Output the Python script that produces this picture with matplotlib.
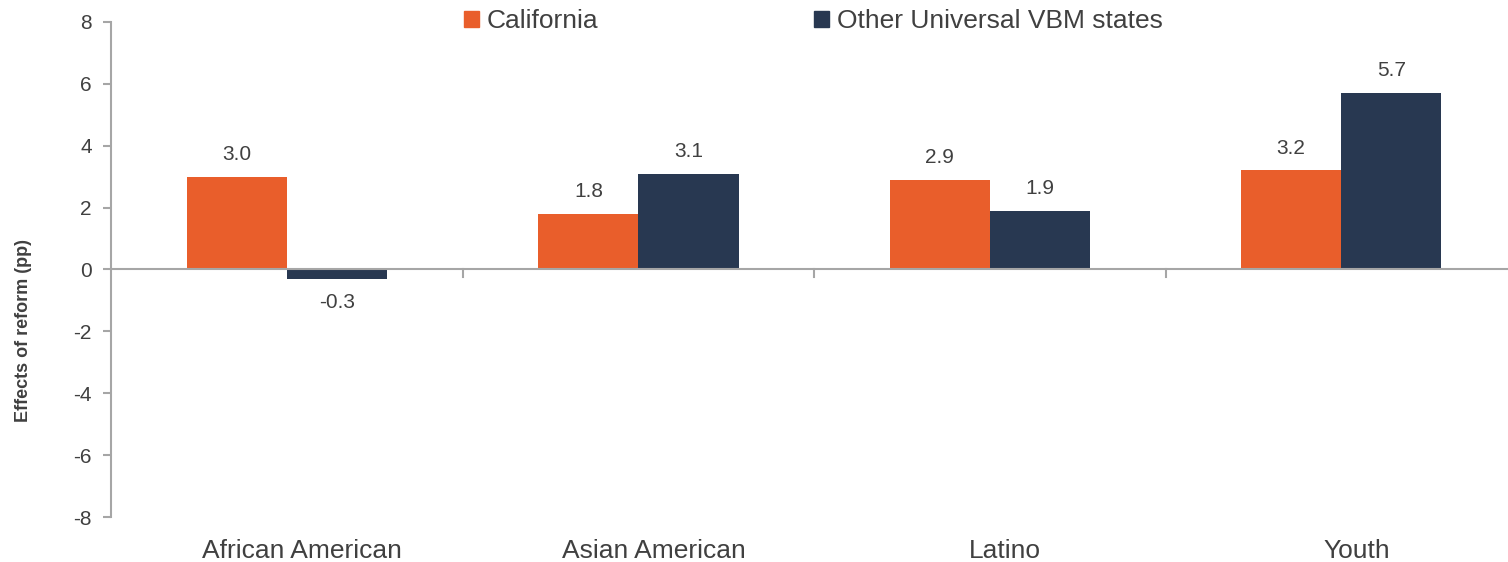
import numpy as np
import matplotlib.pyplot as plt
from matplotlib.patches import Patch

# Dane
categories = ["African American", "Asian American", "Latino", "Youth"]
california = [3.0, 1.8, 2.9, 3.2]
other_vbm = [-0.3, 3.1, 1.9, 5.7]
series_names = ["California", "Other Universal VBM states"]
yticks = [8, 6, 4, 2, 0, -2, -4, -6, -8]

orange = "#E95E2B"
navy = "#283851"
grey = "#A6A6A6"
txt = "#404040"

plt.rcParams['font.family'] = ['Liberation Sans', 'DejaVu Sans']
plt.rcParams['axes.unicode_minus'] = False

fig = plt.figure(figsize=(15.08, 5.62), dpi=100)
ax = fig.add_axes([0.0739, 0.080, 0.932, 0.881])

x = np.arange(len(categories))
w = 0.285
b1 = ax.bar(x - w / 2, california, w, color=orange)
b2 = ax.bar(x + w / 2, other_vbm, w, color=navy)

# Etykiety wartości
for bars in (b1, b2):
    for r in bars:
        v = r.get_height()
        y = v + 0.72 if v >= 0 else v - 0.78
        ax.text(r.get_x() + r.get_width() / 2, y, f"{v:.1f}",
                ha="center", va="center", fontsize=15, color=txt)

ax.set_xlim(-0.5, len(categories) - 0.5)
ax.set_ylim(-8, 8)
ax.set_yticks(yticks)
ax.set_yticklabels([str(t) for t in yticks])
ax.tick_params(axis="y", colors=grey, labelcolor=txt, labelsize=15,
               length=6, width=1.5, direction="out", pad=8)

for s in ("top", "right", "bottom"):
    ax.spines[s].set_visible(False)
ax.spines["left"].set_color(grey)
ax.spines["left"].set_linewidth(1.5)

# Linia zera i znaczniki kategorii
ax.axhline(0, color=grey, linewidth=1.5, zorder=3)
ax.set_xticks([])
for sep in np.arange(0.5, len(categories) - 0.5, 1.0):
    ax.plot([sep, sep], [0, -0.25], color=grey, linewidth=1.5,
            clip_on=False, zorder=3)

# Podpisy kategorii (lekko przesunięte w prawo jak w oryginale)
for i, c in enumerate(categories):
    ax.annotate(c, xy=(i, -9.1), xytext=(11, 0), textcoords="offset points",
                ha="center", va="center", fontsize=19, color=txt,
                annotation_clip=False)

fig.text(0.0153, 1 - 330 / 562, "Effects of reform (pp)", rotation=90,
         ha="center", va="center", fontsize=13, fontweight="bold", color=txt)

handles = [Patch(color=orange), Patch(color=navy)]
fig.legend(handles, series_names, loc="center", bbox_to_anchor=(0.5394, 0.962),
           ncol=2, frameon=False, fontsize=19, handlelength=0.55,
           handleheight=0.55, handletextpad=0.3, columnspacing=8.2,
           labelcolor=txt)

fig.savefig("out.png", dpi=100)
